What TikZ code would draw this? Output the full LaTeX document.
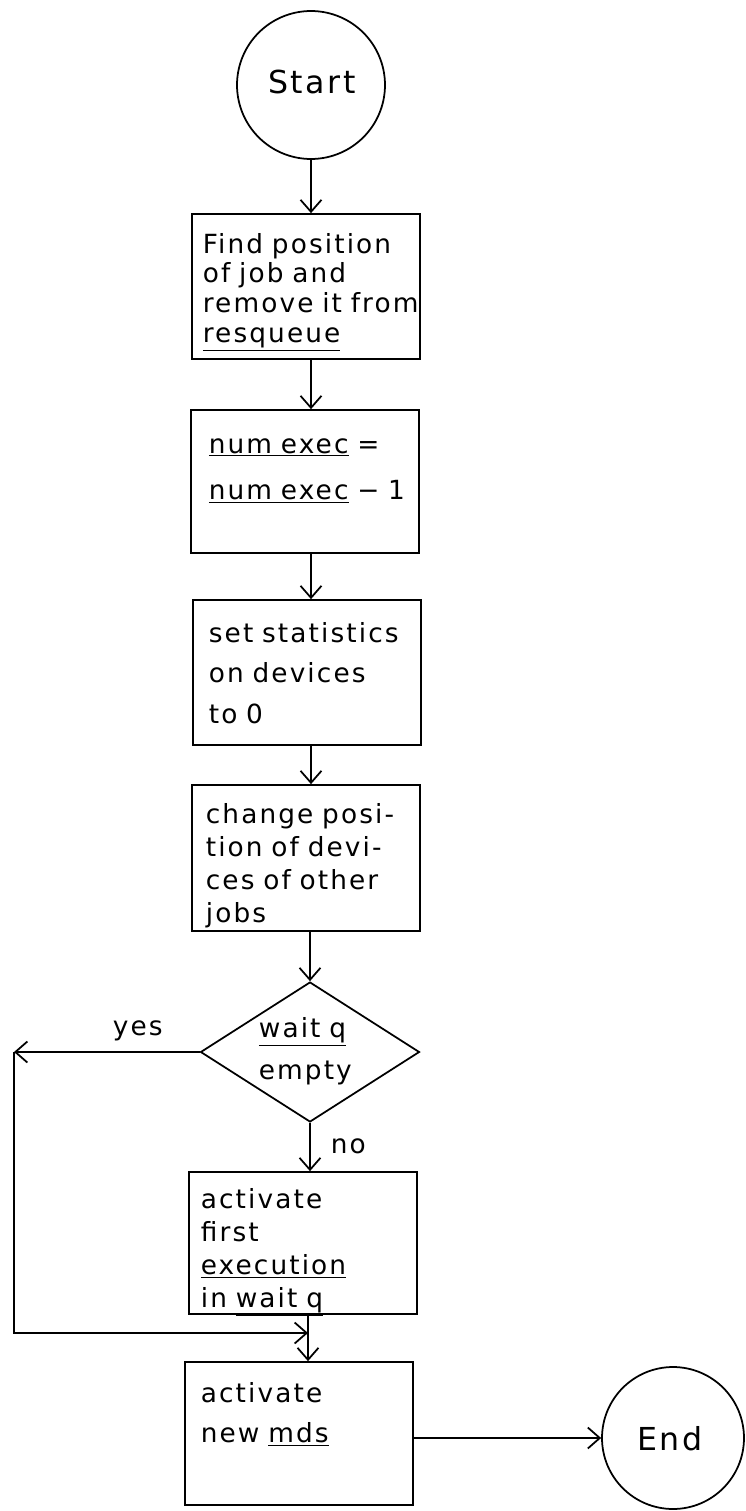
\documentclass[tikz,border=0pt]{standalone}
\usepackage{fontspec}
\newfontfamily\hand[LetterSpace=8]{DejaVu Sans}
\usetikzlibrary{shapes.geometric,arrows.meta}
\begin{document}
\begin{tikzpicture}[x=0.02cm,y=-0.02cm,line width=1pt,
  box/.style={draw,rectangle,minimum width=4.55cm,inner sep=0pt},
  term/.style={draw,circle,inner sep=0pt},
  arr/.style={-{Straight Barb[length=2.4mm,width=4.2mm]}},
  txt/.style={anchor=base west,inner sep=0pt,align=left,text width=5cm,font=\hand\fontsize{15}{#1}\selectfont},
  big/.style={inner sep=0pt,anchor=base,font=\hand\fontsize{18}{20}\selectfont},
  lbl/.style={inner sep=0pt,anchor=base west,font=\hand\fontsize{15}{17}\selectfont}]
\useasboundingbox (0,0) rectangle (745,1511);
% shapes
\node[term,minimum size=2.96cm] (start) at (311,85) {};
\node[box,minimum height=2.9cm] (b1) at (306,286.5) {};
\node[box,minimum height=2.86cm] (b2) at (305,481.5) {};
\node[box,minimum height=2.9cm] (b3) at (307,672.5) {};
\node[box,minimum height=2.92cm] (b4) at (306,858) {};
\node[draw,diamond,minimum width=4.38cm,minimum height=2.8cm,inner sep=0pt] (d) at (310,1052) {};
\node[box,minimum height=2.84cm] (b6) at (303,1243) {};
\node[box,minimum height=2.86cm] (b7) at (299,1433.5) {};
\node[term,minimum size=2.84cm] (e) at (673,1438) {};
% texts
\node[big] (tstart) at (312,93) {Start};
\node[txt=17] (t1) at (202,253) {Find position\\of job and\\remove it from\\\underline{resqueue}};
\node[txt=26.7] (t2) at (208,453) {\underline{num exec} =\\\underline{num exec} − 1};
\node[txt=23.3] (t3) at (208,642) {set statistics\\on devices\\to 0};
\node[txt=18.8] (t4) at (205,823) {change posi-\\tion of devi-\\ces of other\\jobs};
\node[txt=24.4] (td) at (258,1037) {\underline{wait q}\\empty};
\node[txt=18.8] (t6) at (200,1208) {activate\\first\\\underline{execution}\\in \underline{wait q}};
\node[txt=22.8] (t7) at (200,1402) {activate\\new \underline{mds}};
\node[big] (tend) at (670,1450) {End};
\node[lbl] (tyes) at (112,1035) {yes};
\node[lbl] (tno) at (330,1153) {no};
% connectors
\coordinate (yc) at (14,1052);
\coordinate (m) at (308,1333);
\draw[arr] (start.south) -- (start.south |- b1.north);
\draw[arr] (b1.south -| start.south) -- (start.south |- b2.north);
\draw[arr] (b2.south -| start.south) -- (start.south |- b3.north);
\draw[arr] (b3.south -| start.south) -- (start.south |- b4.north);
\draw[arr] (b4.south -| d.north) -- (d.north);
\draw[arr] (d.south) -- (d.south |- b6.north);
\draw[arr] (d.west) -- (yc);
\draw[arr] (yc) |- (m);
\draw[arr] (b6.south -| m) -- (m |- b7.north);
\draw[arr] (e.west -| b7.east) -- (e.west);
\end{tikzpicture}
\end{document}
